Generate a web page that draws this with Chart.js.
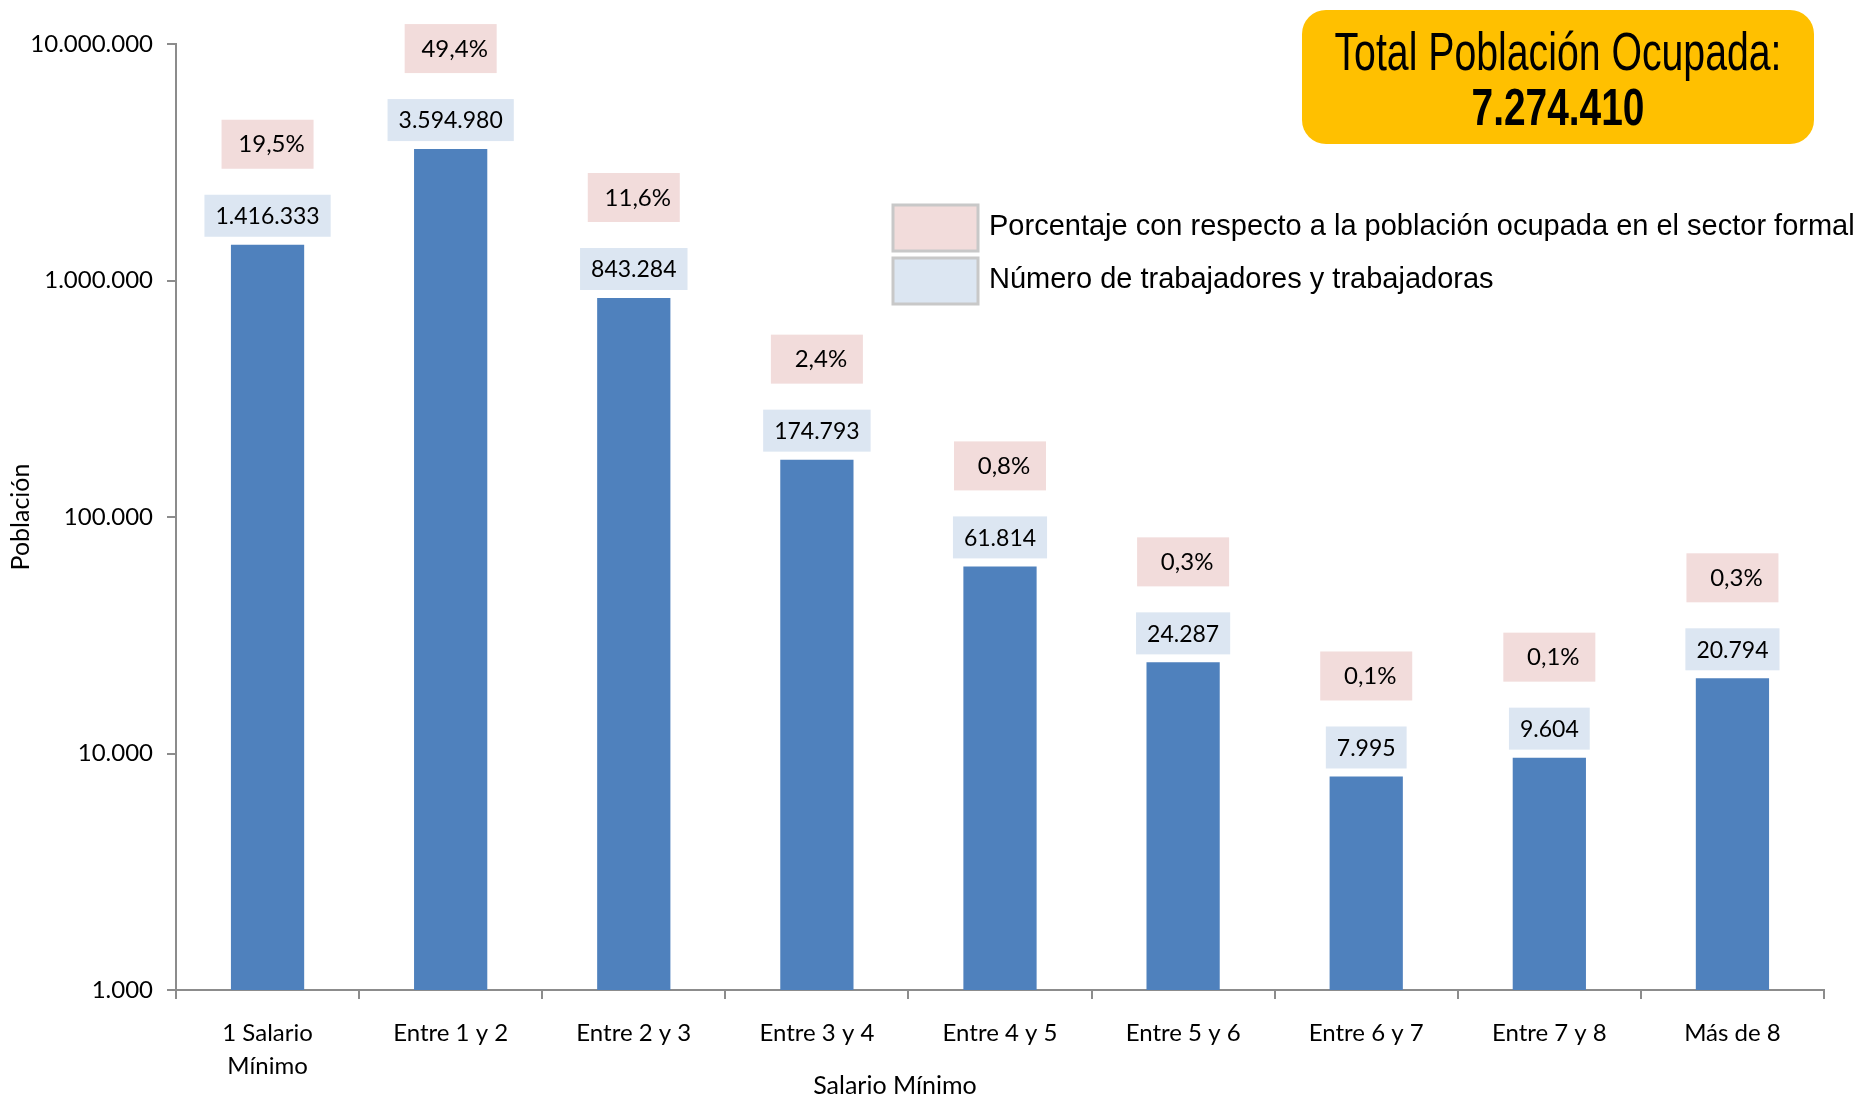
<!DOCTYPE html>
<html>
<head>
<meta charset="utf-8">
<script src="https://cdn.jsdelivr.net/npm/chart.js@4"></script>
<style>
  html, body { margin: 0; padding: 0; background: #fff; }
  #wrap { width: 1866px; height: 1098px; }
</style>
</head>
<body>
<div id="wrap"><canvas id="myChart" width="1866" height="1098"></canvas></div>
<script>
var categories = [['1 Salario', 'Mínimo'], 'Entre 1 y 2', 'Entre 2 y 3', 'Entre 3 y 4', 'Entre 4 y 5',
                  'Entre 5 y 6', 'Entre 6 y 7', 'Entre 7 y 8', 'Más de 8'];
var workers = [1416333, 3594980, 843284, 174793, 61814, 24287, 7995, 9604, 20794];
var shares = ['19,5%', '49,4%', '11,6%', '2,4%', '0,8%', '0,3%', '0,1%', '0,1%', '0,3%'];
var yTicks = [1000, 10000, 100000, 1000000, 10000000];
var legendLabels = ['Porcentaje con respecto a la población ocupada en el sector formal',
                    'Número de trabajadores y trabajadoras'];
var totalLabel = 'Total Población Ocupada:';
var totalValue = '7.274.410';

var pinkFill = '#F2DCDB';
var blueFill = '#DCE6F2';

function fmt(n) {
    return String(n).replace(/\B(?=(\d{3})+(?!\d))/g, '.');
}

// boxes above the bars, legend, total box and x title
var extras = {
    id: 'extras',
    afterDatasetsDraw: function(chart) {
        var c = chart.ctx;
        var meta = chart.getDatasetMeta(0);
        c.save();
        c.textAlign = 'center';
        c.textBaseline = 'middle';
        meta.data.forEach(function(bar, i) {
            c.font = '23px Lato';
            var txt = fmt(workers[i]);
            var w = c.measureText(txt).width + 22;
            var bTop = bar.y - 8 - 42;
            c.fillStyle = blueFill;
            c.fillRect(bar.x - w / 2, bTop, w, 42);
            c.fillStyle = '#000';
            c.fillText(txt, bar.x, bTop + 22);
            var pTop = bTop - 26 - 49;
            c.fillStyle = pinkFill;
            c.fillRect(bar.x - 46, pTop, 92, 49);
            c.fillStyle = '#000';
            c.font = '24px Lato';
            c.fillText(shares[i], bar.x + 4, pTop + 25);
        });

        // legend
        var fills = [pinkFill, blueFill];
        var rows = [205, 258];
        c.textAlign = 'left';
        c.font = '29px "Liberation Sans", Arial';
        for (var k = 0; k < 2; k++) {
            c.fillStyle = fills[k];
            c.fillRect(893, rows[k], 85, 46);
            c.strokeStyle = '#C8C8C8';
            c.lineWidth = 3;
            c.strokeRect(893, rows[k], 85, 46);
            c.fillStyle = '#000';
            c.fillText(legendLabels[k], 989, rows[k] + 22);
        }

        // total box
        c.fillStyle = '#FFC000';
        c.beginPath();
        c.roundRect(1302, 10, 512, 134, 24);
        c.fill();
        c.fillStyle = '#000';
        c.textAlign = 'center';
        c.textBaseline = 'alphabetic';
        var drawFit = function(txt, font, cx, y, maxW) {
            c.font = font;
            var tw = c.measureText(txt).width;
            var s = tw > maxW ? maxW / tw : 1;
            c.save();
            c.translate(cx, y);
            c.scale(s, 1);
            c.fillText(txt, 0, 0);
            c.restore();
        };
        drawFit(totalLabel, '54px "Liberation Sans Narrow", "Liberation Sans"', 1558, 70, 447);
        drawFit(totalValue, 'bold 52px "Liberation Sans Narrow", "Liberation Sans"', 1558, 125, 173);

        // x axis title
        c.font = '25px Lato';
        c.textBaseline = 'middle';
        c.fillText('Salario Mínimo', 895, 1086);
        c.restore();
    }
};

var ctx = document.getElementById('myChart').getContext('2d');
var myChart = new Chart(ctx, {
    type: 'bar',
    data: {
        labels: categories,
        datasets: [{
            label: 'Población',
            data: workers,
            backgroundColor: '#4F81BD',
            barPercentage: 0.4,
            categoryPercentage: 1
        }]
    },
    options: {
        responsive: false,
        animation: false,
        layout: { padding: { top: 44, right: 42, left: 0, bottom: 0 } },
        plugins: {
            legend: { display: false },
            tooltip: { enabled: false }
        },
        scales: {
            x: {
                grid: { drawOnChartArea: false, drawTicks: true, tickLength: 9, color: '#8C8C8C', lineWidth: 2 },
                border: { color: '#8C8C8C', width: 2 },
                ticks: { color: '#000', font: { family: 'Lato', size: 24, lineHeight: 1.4 }, maxRotation: 0, padding: 17 },
                afterFit: function(scale) { scale.height = 108; }
            },
            y: {
                type: 'logarithmic',
                min: 1000,
                max: 10000000,
                afterBuildTicks: function(scale) {
                    scale.ticks = yTicks.map(function(v) { return { value: v }; });
                },
                grid: { drawOnChartArea: false, drawTicks: true, tickLength: 9, color: '#8C8C8C', lineWidth: 2 },
                border: { color: '#8C8C8C', width: 2 },
                ticks: {
                    color: '#000',
                    font: { family: 'Lato', size: 24 },
                    padding: 14,
                    callback: function(v) { return fmt(v); }
                },
                title: {
                    display: true,
                    text: 'Población',
                    color: '#000',
                    font: { family: 'Lato', size: 25 },
                    padding: { top: 6, bottom: 0 }
                },
                afterFit: function(scale) { scale.width = 176; }
            }
        }
    },
    plugins: [extras]
});
</script>
</body>
</html>
